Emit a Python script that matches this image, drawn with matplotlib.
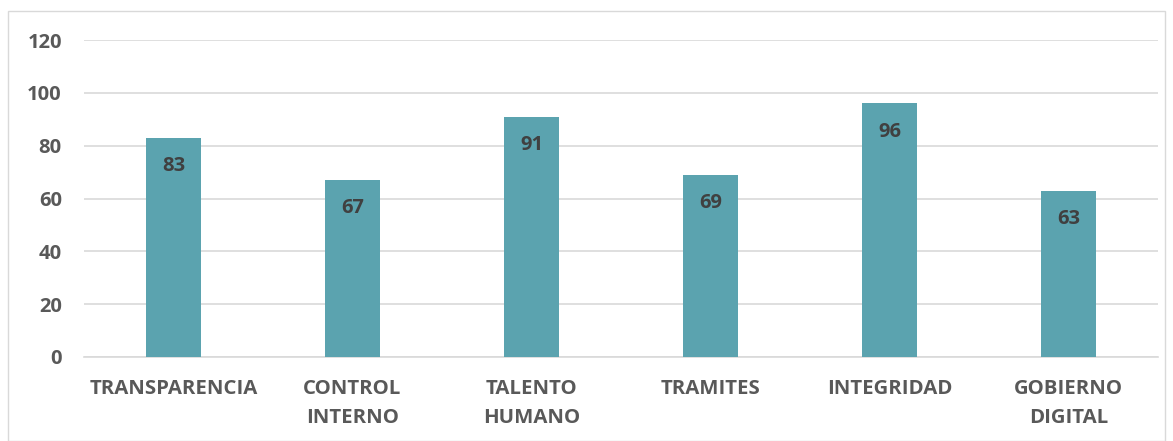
import matplotlib
matplotlib.use("Agg")
import matplotlib.pyplot as plt
from matplotlib.patches import Rectangle

categories = ["TRANSPARENCIA", "CONTROL\nINTERNO", "TALENTO\nHUMANO", "TRAMITES", "INTEGRIDAD", "GOBIERNO\nDIGITAL"]
values = [83, 67, 91, 69, 96, 63]
yticks = [0, 20, 40, 60, 80, 100, 120]

plt.rcParams['font.family'] = ['Open Sans', 'DejaVu Sans']
txt = '#595959'
bar_color = '#5BA3AF'

fig = plt.figure(figsize=(11.73, 4.41), dpi=100)
fig.patches.append(Rectangle((8/1173, 0), (1165-8)/1173, 1 - 11/441, transform=fig.transFigure,
                             fill=False, edgecolor='#d9d9d9', linewidth=1))
ax = fig.add_axes([84/1173, 1 - 357/441, (1158-84)/1173, (357-40)/441])

x = list(range(len(categories)))
ax.bar(x, values, width=0.31, color=bar_color, zorder=3)
for xi, v in zip(x, values):
    ax.annotate(str(v), (xi, v), xytext=(0, -20.5), textcoords='offset points',
                ha='center', va='center', fontsize=14.5, fontweight='bold', color='#404040', zorder=4)

ax.set_xlim(-0.5, len(categories) - 0.5)
ax.set_ylim(0, 120)
ax.set_yticks(yticks)
ax.set_xticks(x)
ax.set_xticklabels(categories, fontsize=14.7, fontweight='bold', color=txt, linespacing=1.6, va='top')
ax.tick_params(axis='y', labelsize=14.5, labelcolor=txt, length=0, pad=16)
ax.tick_params(axis='x', length=0, pad=15.5)
for lbl in ax.get_yticklabels():
    lbl.set_fontweight('bold')
ax.grid(axis='y', color='#d9d9d9', linewidth=1.2, zorder=0)
for s in ['top', 'right', 'left']:
    ax.spines[s].set_visible(False)
ax.spines['bottom'].set_color('#d9d9d9')
ax.spines['bottom'].set_linewidth(1.2)

fig.savefig('out.png', dpi=100)
